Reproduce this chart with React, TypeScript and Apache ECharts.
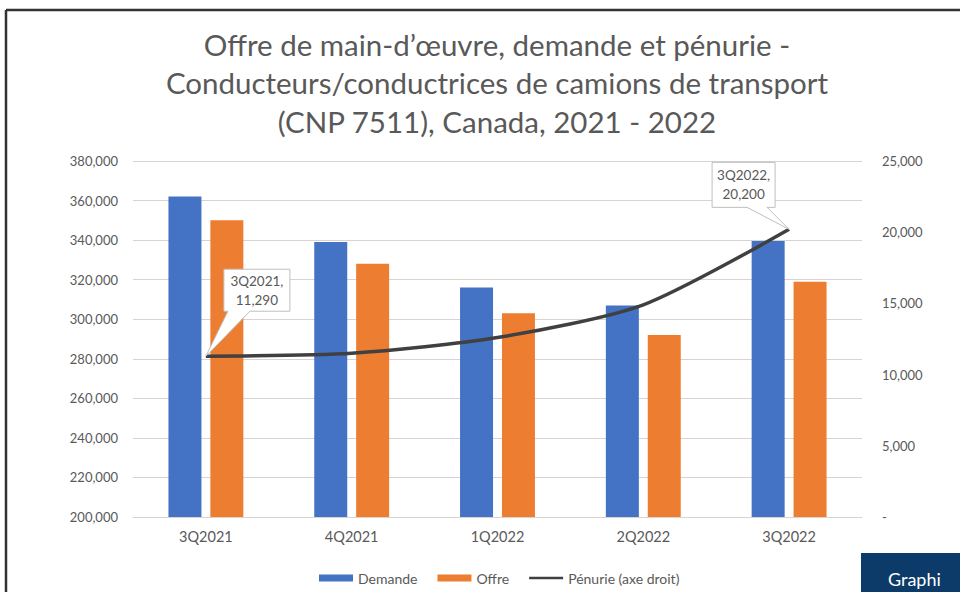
import React, { useEffect, useRef } from "react";
import * as echarts from "echarts";

const categories = ["3Q2021", "4Q2021", "1Q2022", "2Q2022", "3Q2022"];
const demande = [362000, 339000, 316000, 307000, 339500];
const offre = [350000, 328000, 303000, 292000, 319000];
const penurie = [11290, 11500, 12600, 14900, 20200];
const titleLines = [
  "Offre de main-d’œuvre, demande et pénurie -",
  "Conducteurs/conductrices de camions de transport",
  "(CNP 7511), Canada, 2021 - 2022",
];
const seriesNames = ["Demande", "Offre", "Pénurie (axe droit)"];
const calloutIdx = [0, 4];

const FONT = "Lato";
const GRAY = "#595959";

export default function App() {
  const ref = useRef<HTMLDivElement>(null);
  useEffect(() => {
    if (!ref.current) return;
    const chart = echarts.init(ref.current, null, { renderer: "svg" });
    const fmt = (v: number) => v.toLocaleString("en-US");
    chart.setOption({
      animation: false,
      backgroundColor: "#ffffff",
      textStyle: { fontFamily: FONT },
      title: {
        text: titleLines.join("\n"),
        left: 492,
        textAlign: "center",
        top: 20,
        textStyle: {
          fontFamily: FONT,
          fontSize: 29.5,
          fontWeight: "normal",
          color: GRAY,
          lineHeight: 38.5,
        },
      },
      grid: { left: 133, right: 98, top: 161, bottom: 75 },
      legend: {
        left: 314,
        top: 566,
        itemWidth: 34,
        itemHeight: 7,
        itemGap: 20,
        textStyle: { fontFamily: FONT, fontSize: 14, color: GRAY },
        data: [
          { name: seriesNames[0], icon: "rect" },
          { name: seriesNames[1], icon: "rect" },
          { name: seriesNames[2], icon: "path://M0,0h38v3h-38z" },
        ],
      },
      xAxis: {
        type: "category",
        data: categories,
        axisTick: { show: false },
        axisLine: { lineStyle: { color: "#d9d2cf", width: 1 } },
        axisLabel: { color: GRAY, fontSize: 14.5, fontFamily: FONT, margin: 12 },
      },
      yAxis: [
        {
          type: "value",
          min: 200000,
          max: 380000,
          interval: 20000,
          axisLine: { show: false },
          axisTick: { show: false },
          splitLine: { lineStyle: { color: "#d9d2cf", width: 1 } },
          axisLabel: {
            color: GRAY,
            fontSize: 13,
            fontFamily: FONT,
            margin: 15,
            formatter: (v: number) => fmt(v),
          },
        },
        {
          type: "value",
          min: 0,
          max: 25000,
          interval: 5000,
          axisLine: { show: false },
          axisTick: { show: false },
          splitLine: { show: false },
          axisLabel: {
            color: GRAY,
            fontSize: 13,
            fontFamily: FONT,
            margin: 20,
            formatter: (v: number) => (v === 0 ? "-" : fmt(v)),
          },
        },
      ],
      series: [
        {
          name: seriesNames[0],
          type: "bar",
          data: demande,
          barWidth: 33,
          barGap: "27%",
          itemStyle: { color: "#4472c4" },
        },
        {
          name: seriesNames[1],
          type: "bar",
          data: offre,
          barWidth: 33,
          itemStyle: { color: "#ed7d31" },
        },
        {
          name: seriesNames[2],
          type: "line",
          yAxisIndex: 1,
          data: penurie,
          smooth: 0.25,
          showSymbol: false,
          symbol: "none",
          lineStyle: { color: "#404040", width: 3.5 },
          itemStyle: { color: "#404040" },
          z: 5,
        },
      ],
    });

    const p0 = chart.convertToPixel({ seriesIndex: 2 }, [calloutIdx[0], penurie[calloutIdx[0]]]) as number[];
    const p1 = chart.convertToPixel({ seriesIndex: 2 }, [calloutIdx[1], penurie[calloutIdx[1]]]) as number[];

    const callout = (
      tip: number[],
      bx: number,
      by: number,
      bw: number,
      bh: number,
      wa: number,
      wb: number,
      text: string
    ) => {
      const L = tip[0] + bx;
      const T = tip[1] + by;
      const R = L + bw;
      const B = T + bh;
      return [
        {
          type: "polygon",
          z: 20,
          shape: {
            points: [
              [L, T],
              [R, T],
              [R, B],
              [tip[0] + wb, B],
              [tip[0], tip[1]],
              [tip[0] + wa, B],
              [L, B],
            ],
          },
          style: { fill: "#ffffff", stroke: "#bfbfbf", lineWidth: 1 },
        },
        {
          type: "text",
          z: 21,
          x: (L + R) / 2,
          y: (T + B) / 2,
          style: {
            text,
            fill: GRAY,
            font: `13.5px ${FONT}`,
            align: "center",
            verticalAlign: "middle",
            lineHeight: 19,
          },
        },
      ];
    };

    chart.setOption({
      graphic: [
        ...callout(
          p0,
          18,
          -87,
          66,
          42,
          22,
          44,
          `${categories[calloutIdx[0]]},\n${fmt(penurie[calloutIdx[0]])}`
        ),
        ...callout(
          p1,
          -77,
          -67,
          63,
          45,
          -42,
          -22,
          `${categories[calloutIdx[1]]},\n${fmt(penurie[calloutIdx[1]])}`
        ),
        {
          type: "line",
          z: 30,
          shape: { x1: 6, y1: 10, x2: 960, y2: 10 },
          style: { stroke: "#333333", lineWidth: 2.5 },
        },
        {
          type: "line",
          z: 30,
          shape: { x1: 6, y1: 10, x2: 6, y2: 592 },
          style: { stroke: "#333333", lineWidth: 2.5 },
        },
        {
          type: "rect",
          z: 30,
          shape: { x: 861, y: 553, width: 110, height: 50 },
          style: { fill: "#0c3b69" },
        },
        {
          type: "text",
          z: 31,
          x: 888,
          y: 570,
          style: {
            text: "Graphi",
            fill: "#ffffff",
            font: `18px ${FONT}`,
            verticalAlign: "top",
          },
        },
      ],
    });
    return () => chart.dispose();
  }, []);
  return (
    <div
      ref={ref}
      style={{ position: "fixed", left: 0, top: 0, width: 960, height: 592 }}
    />
  );
}
